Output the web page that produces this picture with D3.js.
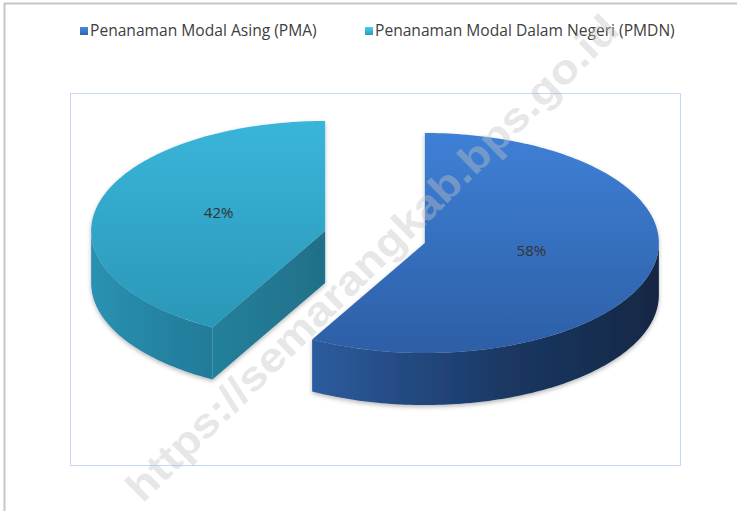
<!DOCTYPE html>
<html>
<head>
<meta charset="utf-8">
<script src="https://cdn.jsdelivr.net/npm/d3@7/dist/d3.min.js"></script>
<style>
  body { margin: 0; background: #fff; }
  svg { display: block; }
</style>
</head>
<body>
<div id="chart"></div>
<script>
// Data
const categories = ["Penanaman Modal Asing (PMA)", "Penanaman Modal Dalam Negeri (PMDN)"];
const values = [58, 42];
const watermark = "https://semarangkab.bps.go.id";

const width = 737;
const height = 511;

// top face / side wall / cut face colours per slice
const topColors = [["#3e80d6", "#2d5fa6"], ["#39b5d9", "#2b97b8"]];
const wallColors = [["#2c5c9e", "#1b3864", "#122744"], ["#2b91b2", "#2584a3", "#227b98"]];
const cutColors = [["#1d3b66", "#16305a"], ["#24809b", "#1f7088"]];
const legendColors = ["#3b78c8", "#38b6d8"];

const plot = { x: 70, y: 93, w: 610, h: 372 };
const pie3d = { cx: 375, cy: 237, rx: 234, ry: 110, depth: 52, explode: 0.22 };

const svg = d3.select("#chart")
  .append("svg")
  .attr("width", width)
  .attr("height", height);

const defs = svg.append("defs");

// Soft shadow like the office chart
const shadow = defs.append("filter")
  .attr("id", "shadow")
  .attr("x", "-10%").attr("y", "-10%")
  .attr("width", "120%").attr("height", "130%");
shadow.append("feDropShadow")
  .attr("dx", 0).attr("dy", 2)
  .attr("stdDeviation", 2)
  .attr("flood-color", "#000")
  .attr("flood-opacity", 0.28);

// Outer chart border (only top and left visible)
svg.append("line")
  .attr("x1", 4).attr("y1", 3.5).attr("x2", width).attr("y2", 3.5)
  .attr("stroke", "#c6c6c6").attr("stroke-width", 2);
svg.append("line")
  .attr("x1", 4.5).attr("y1", 3).attr("x2", 4.5).attr("y2", height)
  .attr("stroke", "#c6c6c6").attr("stroke-width", 2);

// Pie layout, starting at 12 o'clock, clockwise
const pie = d3.pie().sort(null).value(d => d)(values);

// Angle -> screen point on the tilted ellipse
const px = d3.scaleLinear().domain([-1, 1]).range([-pie3d.rx, pie3d.rx]);
const py = d3.scaleLinear().domain([-1, 1]).range([pie3d.ry, -pie3d.ry]);

function rim(c, a, z) {
  return [c.x + px(Math.sin(a)), c.y + py(Math.cos(a)) + z];
}

function arcPoints(c, a0, a1, z) {
  const n = Math.max(2, Math.ceil((a1 - a0) / 0.02));
  return d3.range(n + 1).map(i => rim(c, a0 + (a1 - a0) * i / n, z));
}

const line = d3.line();

pie.forEach((d, i) => {
  const mid = (d.startAngle + d.endAngle) / 2;
  const c = {
    x: pie3d.cx + px(Math.sin(mid)) * pie3d.explode,
    y: pie3d.cy + py(Math.cos(mid)) * pie3d.explode
  };
  d.center = c;
  d.mid = mid;

  // gradients
  const tg = defs.append("linearGradient")
    .attr("id", "top" + i)
    .attr("x1", 0).attr("y1", 0).attr("x2", 0).attr("y2", 1);
  tg.append("stop").attr("offset", "0%").attr("stop-color", topColors[i][0]);
  tg.append("stop").attr("offset", "100%").attr("stop-color", topColors[i][1]);

  const wg = defs.append("linearGradient")
    .attr("id", "wall" + i)
    .attr("x1", 0).attr("y1", 0).attr("x2", 1).attr("y2", 0);
  wg.append("stop").attr("offset", "0%").attr("stop-color", wallColors[i][0]);
  wg.append("stop").attr("offset", "55%").attr("stop-color", wallColors[i][1]);
  wg.append("stop").attr("offset", "100%").attr("stop-color", wallColors[i][2]);

  const cg = defs.append("linearGradient")
    .attr("id", "cut" + i)
    .attr("x1", 0).attr("y1", 0).attr("x2", 1).attr("y2", 0);
  cg.append("stop").attr("offset", "0%").attr("stop-color", cutColors[i][0]);
  cg.append("stop").attr("offset", "100%").attr("stop-color", cutColors[i][1]);
});

// draw back slice first (the one whose centre sits higher)
const order = pie.slice().sort((a, b) => a.center.y - b.center.y);

order.forEach(d => {
  const i = d.index;
  const c = d.center;
  const a0 = d.startAngle;
  const a1 = d.endAngle;
  const g = svg.append("g").attr("filter", "url(#shadow)");

  // radial cut faces that face the viewer
  [[a0, a0 - Math.PI / 2], [a1, a1 + Math.PI / 2]].forEach(([a, n]) => {
    if (Math.cos(n) < -0.01) {
      const t = rim(c, a, 0);
      const b = rim(c, a, pie3d.depth);
      g.append("path")
        .attr("d", line([[c.x, c.y], t, b, [c.x, c.y + pie3d.depth]]) + "Z")
        .attr("fill", `url(#cut${i})`);
    }
  });

  // outer wall, front half only
  const w0 = Math.max(a0, Math.PI / 2);
  const w1 = Math.min(a1, Math.PI * 1.5);
  if (w1 > w0) {
    const topEdge = arcPoints(c, w0, w1, 0);
    const botEdge = arcPoints(c, w0, w1, pie3d.depth).reverse();
    g.append("path")
      .attr("d", line(topEdge.concat(botEdge)) + "Z")
      .attr("fill", `url(#wall${i})`);
  }

  // top face
  const face = [[c.x, c.y]].concat(arcPoints(c, a0, a1, 0));
  g.append("path")
    .attr("d", line(face) + "Z")
    .attr("fill", `url(#top${i})`);
});

// percentage labels on the top faces
pie.forEach(d => {
  const c = d.center;
  svg.append("text")
    .attr("x", c.x + px(Math.sin(d.mid)) * 0.47)
    .attr("y", c.y + py(Math.cos(d.mid)) * 0.47 - 6)
    .attr("text-anchor", "middle")
    .attr("dominant-baseline", "central")
    .attr("font-family", "'Open Sans', sans-serif")
    .attr("font-size", "15px")
    .attr("fill", "#333")
    .text(d3.format(".0f")(d.value) + "%");
});

// Legend
const legendX = [80, 365];
categories.forEach((name, i) => {
  const lg = defs.append("linearGradient")
    .attr("id", "leg" + i)
    .attr("x1", 0).attr("y1", 0).attr("x2", 0).attr("y2", 1);
  lg.append("stop").attr("offset", "0%").attr("stop-color", d3.color(legendColors[i]).brighter(0.4));
  lg.append("stop").attr("offset", "100%").attr("stop-color", d3.color(legendColors[i]).darker(0.5));

  svg.append("rect")
    .attr("x", legendX[i])
    .attr("y", 27)
    .attr("width", 8)
    .attr("height", 8)
    .attr("fill", `url(#leg${i})`);

  svg.append("text")
    .attr("x", legendX[i] + 10)
    .attr("y", 36)
    .attr("font-family", "'Open Sans', sans-serif")
    .attr("font-size", "15.6px")
    .attr("fill", "#404040")
    .text(name);
});

// Watermark
svg.append("text")
  .attr("transform", "translate(372,258) rotate(-44.6)")
  .attr("text-anchor", "middle")
  .attr("dominant-baseline", "central")
  .attr("font-family", "'Liberation Sans', Arial, sans-serif")
  .attr("font-weight", "bold")
  .attr("font-size", "41px")
  .attr("textLength", 672)
  .attr("lengthAdjust", "spacingAndGlyphs")
  .attr("fill", "#c4c4c4")
  .attr("fill-opacity", 0.42)
  .text(watermark);

// Plot area dotted border
svg.append("rect")
  .attr("x", plot.x + 0.5)
  .attr("y", plot.y + 0.5)
  .attr("width", plot.w)
  .attr("height", plot.h)
  .attr("fill", "none")
  .attr("stroke", "#8db3e2")
  .attr("stroke-width", 1)
  .attr("stroke-dasharray", "1,1");
</script>
</body>
</html>
